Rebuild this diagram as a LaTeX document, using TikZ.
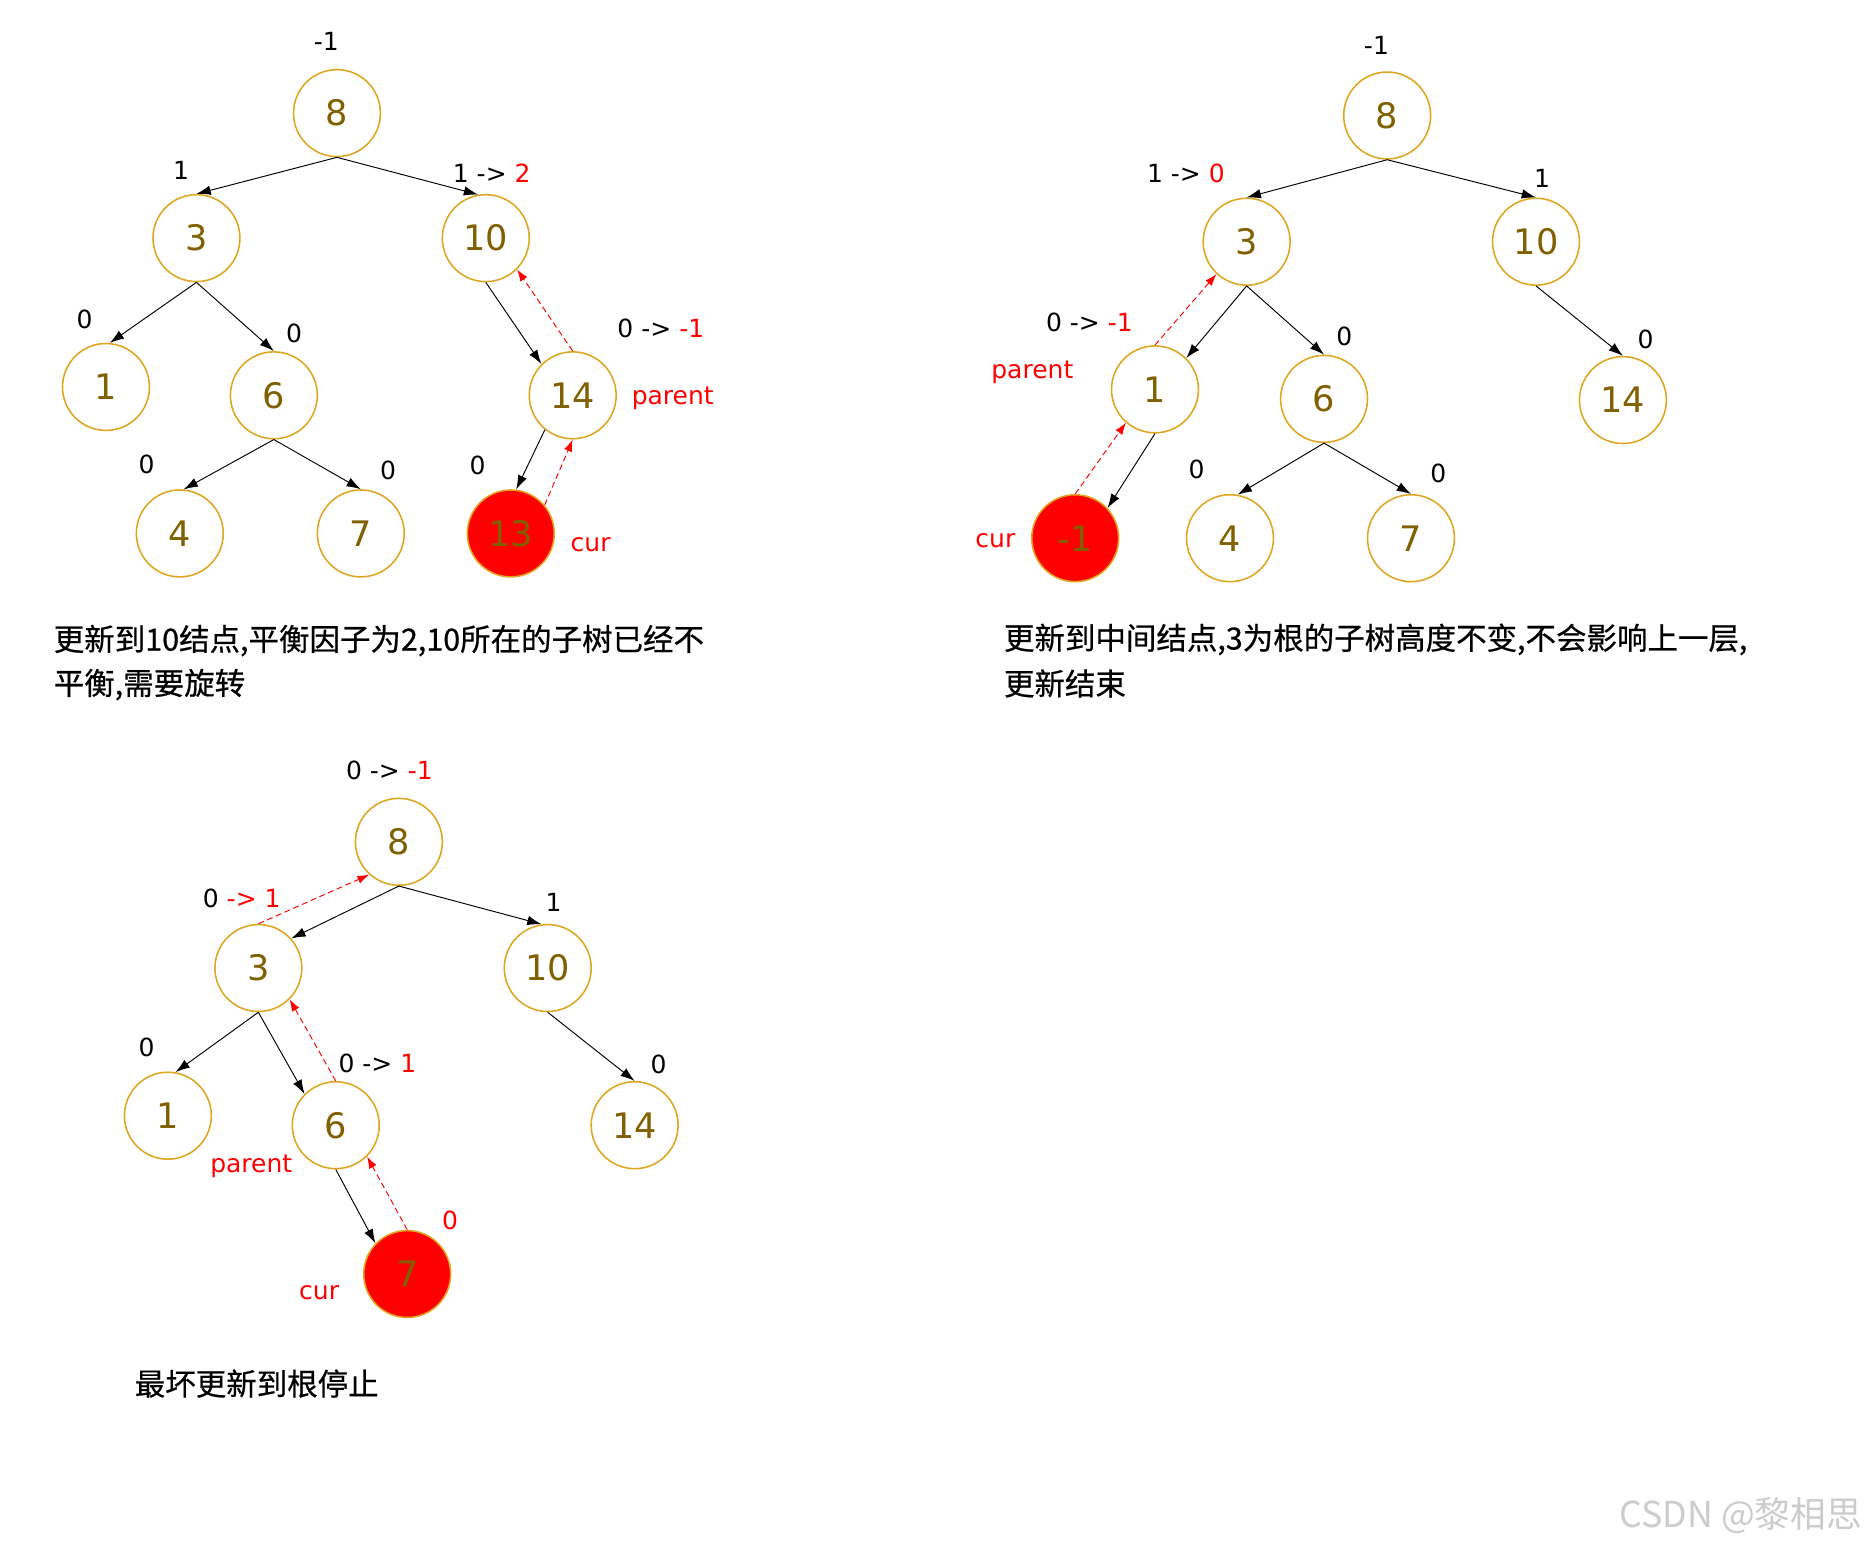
\documentclass[tikz,border=0pt]{standalone}
\usepackage{fontspec}
\usetikzlibrary{arrows.meta}
\newfontfamily\labfont{DejaVu Sans}
\newfontfamily\cjkfont[FakeBold=0.6]{Noto Sans CJK SC}
\newfontfamily\wmfont{Noto Sans CJK SC}
\definecolor{ringc}{RGB}{224,165,30}
\definecolor{numc}{RGB}{128,96,0}
\begin{document}
\begin{tikzpicture}[x=1pt,y=-1pt,
  tn/.style={circle, draw=ringc, line width=1.3pt, minimum size=73pt, inner sep=0pt,
    font=\labfont\fontsize{29.5}{30}\selectfont, text=numc},
  curn/.style={tn, fill=red},
  lab/.style={font=\labfont\fontsize{21}{22}\selectfont, inner sep=0pt, text height=15pt, text depth=0pt},
  redlab/.style={lab, text=red},
  tedge/.style={draw=black, line width=0.8pt, -{Latex[length=12pt,width=8pt]}},
  redback/.style={draw=red, line width=0.8pt, dash pattern=on 5pt off 3pt, -{Latex[length=10pt,width=7pt]}},
  captxt/.style={font=\cjkfont\fontsize{25.6}{30}\selectfont, anchor=west, inner sep=0pt}
]
\fill[white] (0,0) rectangle (1568,1301);
\useasboundingbox (0,0) rectangle (1568,1301);

% ---------- tree 1 ----------
\node[tn] (a8) at (283,95) {8};
\node[tn] (a3) at (165,200) {3};
\node[tn] (a10) at (408,200) {10};
\node[tn] (a1) at (89,325) {1};
\node[tn] (a6) at (230,332) {6};
\node[tn] (a14) at (481,332) {14};
\node[tn] (a4) at (151,448) {4};
\node[tn] (a7) at (303,448) {7};
\node[curn] (a13) at (429,448) {13};
\draw[tedge] (a8.south) -- (a3.north);
\draw[tedge] (a8.south) -- (a10.100);
\draw[tedge] (a3.south) -- (a1.85);
\draw[tedge] (a3.south) -- (a6.north);
\draw[tedge] (a6.south) -- (a4.85);
\draw[tedge] (a6.south) -- (a7.north);
\draw[tedge] (a10.south) -- (a14.135);
\draw[tedge] (a14.231) -- (a13.83);
\draw[redback] (a13.40) -- (a14.south);
\draw[redback] (a14.north) -- (a10.-45);
\node[lab] (la1) at (274,35) {-1};
\node[lab] (la2) at (152,143) {1};
\node[lab] (la3) at (413,146) {1 -> {\color{red}2}};
\node[lab] (la4) at (71,268) {0};
\node[lab] (la5) at (247,280) {0};
\node[lab] (la6) at (555,276) {0 -> {\color{red}-1}};
\node[redlab] (la7) at (565,332) {parent};
\node[lab] (la8) at (123,390) {0};
\node[lab] (la9) at (326,395) {0};
\node[lab] (la10) at (401,391) {0};
\node[redlab] (la11) at (496,456) {cur};

% ---------- tree 2 ----------
\node[tn] (b8) at (1165,97) {8};
\node[tn] (b3) at (1047,203) {3};
\node[tn] (b10) at (1290,203) {10};
\node[tn] (b1) at (970,327) {1};
\node[tn] (b6) at (1112,335) {6};
\node[tn] (b14) at (1363,336) {14};
\node[curn] (bm) at (903,452) {-1};
\node[tn] (b4) at (1033,452) {4};
\node[tn] (b7) at (1185,452) {7};
\draw[tedge] (b8.south) -- (b3.north);
\draw[tedge] (b8.south) -- (b10.north);
\draw[tedge] (b3.south) -- (b1.45);
\draw[tedge] (b3.south) -- (b6.north);
\draw[tedge] (b10.south) -- (b14.north);
\draw[tedge] (b1.south) -- (bm.43);
\draw[tedge] (b6.south) -- (b4.80);
\draw[tedge] (b6.south) -- (b7.north);
\draw[redback] (bm.north) -- (b1.229);
\draw[redback] (b1.north) -- (b3.227);
\node[lab] (lb1) at (1156,38) {-1};
\node[lab] (lb2) at (996,146) {1 -> {\color{red}0}};
\node[lab] (lb3) at (1295,150) {1};
\node[lab] (lb4) at (915,271) {0 -> {\color{red}-1}};
\node[redlab] (lb5) at (867,310) {parent};
\node[lab] (lb6) at (1129,283) {0};
\node[lab] (lb7) at (1382,285) {0};
\node[lab] (lb8) at (1005,394) {0};
\node[lab] (lb9) at (1208,398) {0};
\node[redlab] (lb10) at (836,452) {cur};

% ---------- tree 3 ----------
\node[tn] (c8) at (335,707) {8};
\node[tn] (c3) at (217,813) {3};
\node[tn] (c10) at (460,813) {10};
\node[tn] (c1) at (141,937) {1};
\node[tn] (c6) at (282,945) {6};
\node[tn] (c14) at (533,945) {14};
\node[curn] (c7) at (342,1070) {7};
\draw[tedge] (c8.south) -- (c3.42);
\draw[tedge] (c8.south) -- (c10.98);
\draw[tedge] (c3.south) -- (c1.80);
\draw[tedge] (c3.south) -- (c6.135);
\draw[tedge] (c10.south) -- (c14.north);
\draw[tedge] (c6.south) -- (c7.136);
\draw[redback] (c3.north) -- (c8.228);
\draw[redback] (c6.north) -- (c3.-45);
\draw[redback] (c7.north) -- (c6.-45);
\node[lab] (lc1) at (327,647) {0 -> {\color{red}-1}};
\node[lab] (lc2) at (203,755) {0 {\color{red}-> 1}};
\node[lab] (lc3) at (465,758) {1};
\node[lab] (lc4) at (123,880) {0};
\node[lab] (lc5) at (317,893) {0 -> {\color{red}1}};
\node[lab] (lc6) at (553,894) {0};
\node[redlab] (lc7) at (211,977) {parent};
\node[redlab] (lc8) at (378,1025) {0};
\node[redlab] (lc9) at (268,1084) {cur};

% ---------- captions ----------
\node[captxt] (t1) at (45,538) {更新到10结点,平衡因子为2,10所在的子树已经不};
\node[captxt] (t2) at (45,575) {平衡,需要旋转};
\node[captxt] (t3) at (843,537) {更新到中间结点,3为根的子树高度不变,不会影响上一层,};
\node[captxt] (t4) at (843,574) {更新结束};
\node[captxt] (t5) at (113,1162) {最坏更新到根停止};
\node[anchor=west, inner sep=0pt, font=\wmfont\fontsize{30}{32}\selectfont, text=gray!40] (wm) at (1360,1273) {CSDN @黎相思};
\end{tikzpicture}
\end{document}
